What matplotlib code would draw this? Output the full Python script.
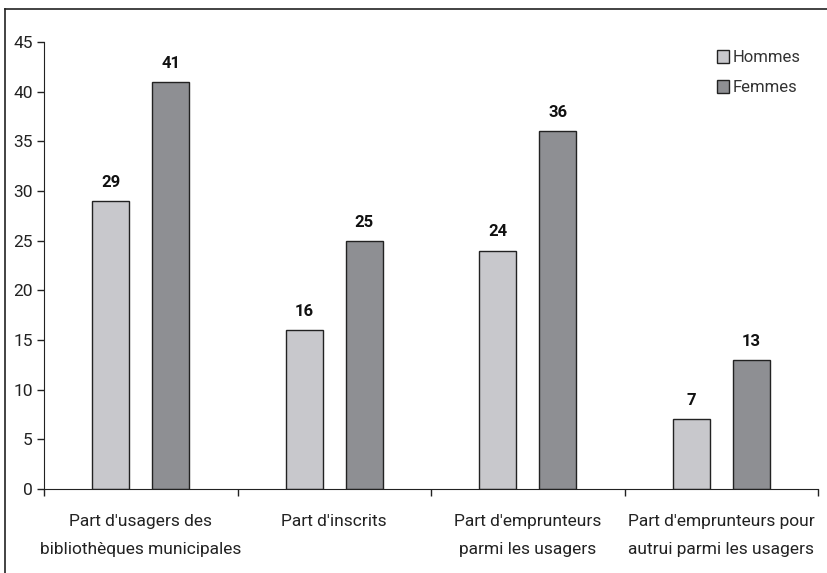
import matplotlib.pyplot as plt
import numpy as np
from matplotlib.lines import Line2D

plt.rcParams['font.family'] = ['Roboto', 'DejaVu Sans']

categories = [
    "Part d'usagers des\nbibliothèques municipales",
    "Part d'inscrits",
    "Part d'emprunteurs\nparmi les usagers",
    "Part d'emprunteurs pour\nautrui parmi les usagers",
]
hommes = [29, 16, 24, 7]
femmes = [41, 25, 36, 13]
yticks = [0, 5, 10, 15, 20, 25, 30, 35, 40, 45]

fig = plt.figure(figsize=(8.27, 5.73), dpi=100)
ax = fig.add_axes([44 / 827, 84 / 573, 774 / 827, 447 / 573])

x = np.arange(len(categories))
w = 0.19
off = 0.155
b1 = ax.bar(x - off, hommes, w, color="#c8c8cc", edgecolor="#222222",
            linewidth=1, label="Hommes")
b2 = ax.bar(x + off, femmes, w, color="#8e8f93", edgecolor="#222222",
            linewidth=1, label="Femmes")

for bars, vals in ((b1, hommes), (b2, femmes)):
    for rect, v in zip(bars, vals):
        ax.annotate(str(v), (rect.get_x() + rect.get_width() / 2, v),
                    xytext=(0, 8), textcoords="offset points",
                    ha="center", va="bottom", fontsize=12, fontweight="bold",
                    color="#111111")

ax.set_xlim(-0.5, len(categories) - 0.5)
ax.set_ylim(0, 45)
ax.set_yticks(yticks)
ax.tick_params(axis="y", labelsize=12.5, length=5, width=1, color="#222222",
               labelcolor="#222222", pad=3)

# category ticks sit on the boundaries, labels in the middle
ax.set_xticks(np.arange(len(categories) + 1) - 0.5)
ax.set_xticklabels([])
ax.tick_params(axis="x", length=5, width=1, color="#222222")
ax.set_xticks(x, minor=True)
ax.set_xticklabels(categories, minor=True, fontsize=12.5, color="#222222",
                   linespacing=2.05)
ax.tick_params(axis="x", which="minor", length=0, pad=18)

for s in ("top", "right"):
    ax.spines[s].set_visible(False)
ax.spines["left"].set_color("#222222")
ax.spines["bottom"].set_color("#222222")

leg = ax.legend(loc="upper left", bbox_to_anchor=(0.85, 1.015), frameon=False,
                fontsize=12, handlelength=0.75, handleheight=0.75,
                handletextpad=0.2, labelspacing=0.9)
for t in leg.get_texts():
    t.set_color("#333333")

# outer frame (only top and left edges visible)
fig.add_artist(Line2D([5 / 827, 1.0], [1 - 8.5 / 573, 1 - 8.5 / 573],
                      color="#222222", linewidth=1.2, transform=fig.transFigure))
fig.add_artist(Line2D([5 / 827, 5 / 827], [0.0, 1 - 8.5 / 573],
                      color="#222222", linewidth=1.2, transform=fig.transFigure))

fig.savefig("out.png", dpi=100)
